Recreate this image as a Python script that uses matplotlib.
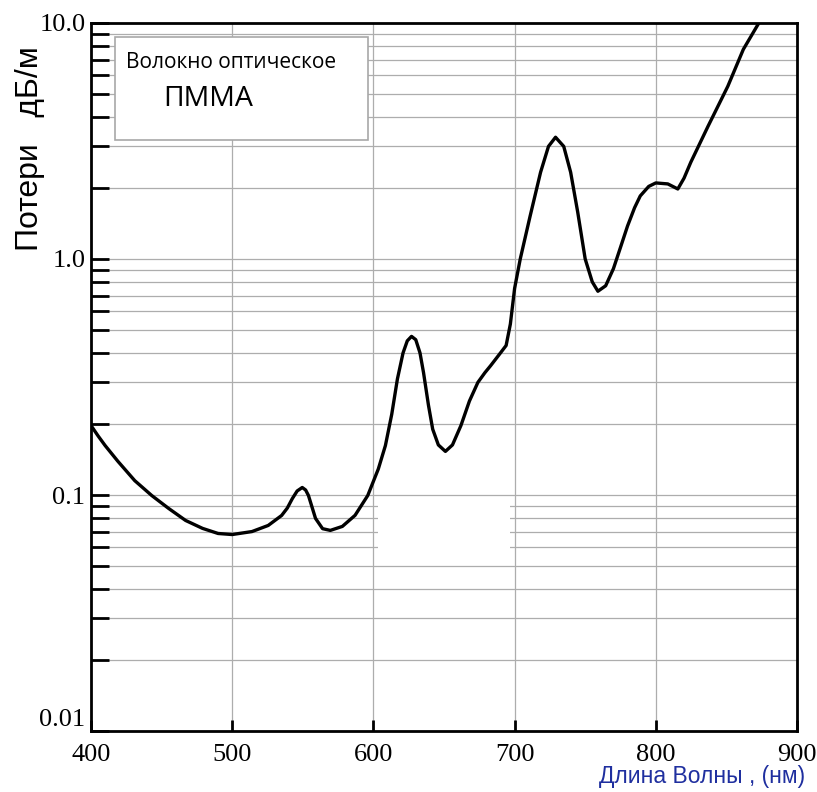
import matplotlib
matplotlib.use("Agg")
import matplotlib.pyplot as plt
from matplotlib.patches import Rectangle
from matplotlib.ticker import NullFormatter

# loss curve of PMMA optical fibre
wavelength = [400, 405, 410, 419, 431, 443, 455, 467, 479, 490, 500, 514,
              525.5, 535, 539, 542.6, 546, 549.6, 552, 554, 556.5, 559, 564,
              569.5, 578, 587, 596, 603.5, 608.5, 613, 617, 621, 624, 627, 630,
              633, 635.5, 639, 642, 646, 651, 656, 662, 668, 674, 679, 683, 690,
              694, 697, 700, 704, 711, 718.4, 724, 729, 734.8, 739.7, 744.7,
              750, 755, 759, 764.5, 770, 775, 780, 785, 789, 795, 800, 808.5,
              815.6, 820, 824.8, 837, 851, 862, 873]
loss = [0.197, 0.178, 0.162, 0.139, 0.115, 0.0995, 0.0877, 0.078, 0.0722,
        0.0687, 0.068, 0.070, 0.0743, 0.0819, 0.088, 0.0966, 0.104, 0.1076,
        0.105, 0.0995, 0.089, 0.0796, 0.072, 0.0708, 0.0736, 0.082, 0.0995,
        0.129, 0.162, 0.22, 0.31, 0.40, 0.45, 0.47, 0.455, 0.40, 0.33, 0.24,
        0.19, 0.163, 0.153, 0.163, 0.197, 0.25, 0.30, 0.33, 0.353, 0.40, 0.43,
        0.53, 0.75, 1.0, 1.52, 2.33, 3.0, 3.28, 3.0, 2.33, 1.58, 1.0, 0.80,
        0.73, 0.77, 0.91, 1.12, 1.38, 1.65, 1.85, 2.03, 2.10, 2.08, 1.98, 2.2,
        2.57, 3.65, 5.39, 7.73, 10.0]

x_ticks = [400, 500, 600, 700, 800, 900]
y_ticks = [0.01, 0.1, 1.0, 10.0]
y_tick_labels = ["0.01", "0.1", "1.0", "10.0"]

serif = "Liberation Serif"
sans = "Liberation Sans"

fig = plt.figure(figsize=(8.17, 7.92), dpi=100)
ax = fig.add_axes([0.1114, 0.077, 0.8641, 0.894])

ax.set_yscale("log")
ax.set_xlim(400, 900)
ax.set_ylim(0.01, 10)

# grid
minor_y = [m * 10.0 ** e for e in (-2, -1, 0) for m in range(2, 10)]
for v in minor_y + y_ticks[1:3]:
    ax.axhline(v, color="#adadad", lw=0.9, zorder=1)
for v in x_ticks[1:-1]:
    ax.axvline(v, color="#adadad", lw=0.9, zorder=1)

# erased spot in the original scan
ax.add_patch(Rectangle((603, 0.057), 94, 0.034, facecolor="white",
                       edgecolor="none", zorder=2))

ax.plot(wavelength, loss, color="black", lw=2.4, zorder=4,
        solid_joinstyle="round", solid_capstyle="round")

ax.set_xticks(x_ticks)
ax.set_xticklabels([str(v) for v in x_ticks], fontfamily=serif, fontsize=19)
ax.set_yticks(y_ticks)
ax.set_yticklabels(y_tick_labels, fontfamily=serif, fontsize=19)
ax.set_yticks(minor_y, minor=True)
ax.yaxis.set_minor_formatter(NullFormatter())
ax.tick_params(axis="y", which="both", direction="in", length=13, width=2, pad=4)
ax.tick_params(axis="x", direction="in", length=8, width=2, pad=9)
ax.get_yticklabels()[0].set_va("bottom")

for s in ax.spines.values():
    s.set_linewidth(2)
    s.set_zorder(5)

# label box
ax.add_patch(Rectangle((0.034, 0.835), 0.358, 0.145, transform=ax.transAxes,
                       facecolor="white", edgecolor="#a8a8a8", lw=1.2, zorder=3))
ax.text(0.0496, 0.944, "Волокно оптическое", transform=ax.transAxes,
        fontfamily="Open Sans", fontsize=15, va="center", zorder=4)
ax.text(0.102, 0.892, "ПММА", transform=ax.transAxes,
        fontfamily="Open Sans", fontsize=20.5, va="center", zorder=4)

fig.text(0.037, 0.813, "Потери   дБ/м", rotation=90, ha="center", va="center",
         fontfamily=sans, fontsize=23)
fig.text(0.986, 0.019, "Длина Волны , (нм)", ha="right", va="center",
         fontfamily=sans, fontsize=16.5, color="#1f2f9f")

fig.savefig("out.png", dpi=100)
